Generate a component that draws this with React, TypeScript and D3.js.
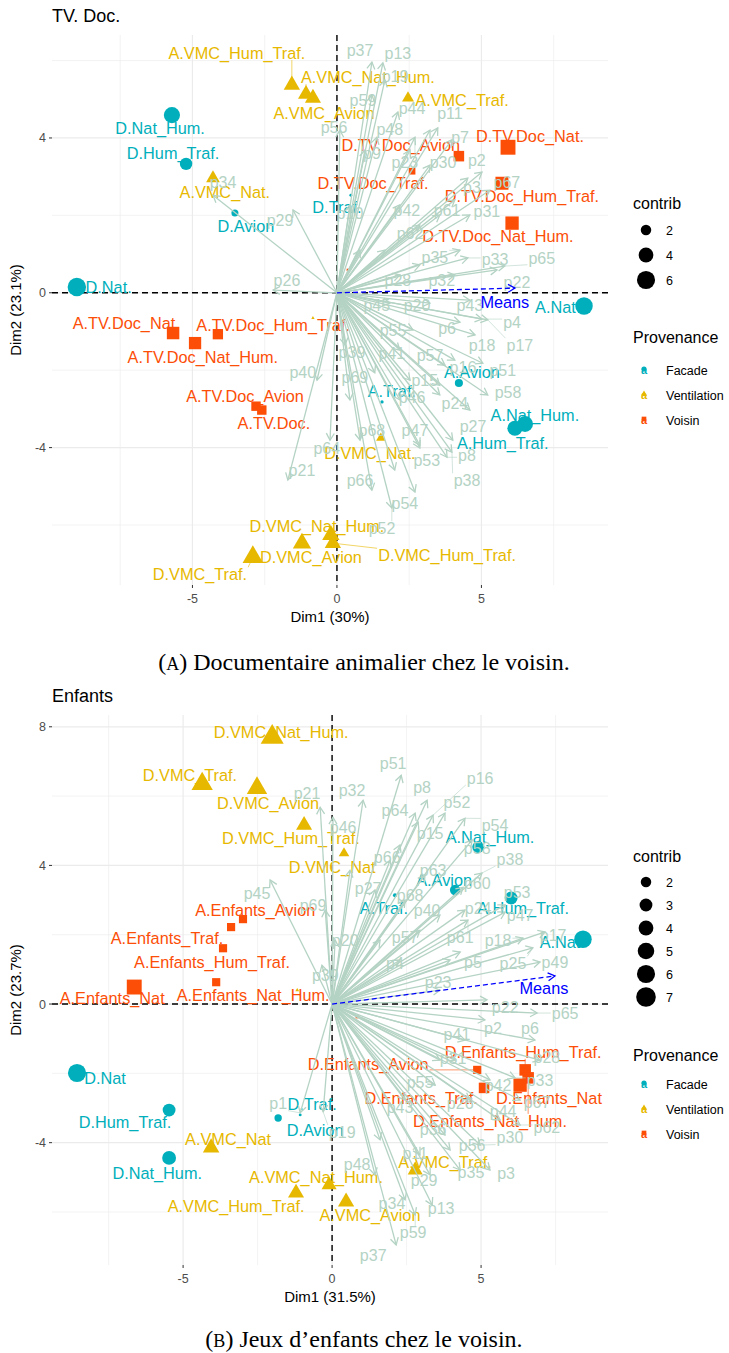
import React from "react";
import * as d3 from "d3";

// ---------- shared ----------
const GROUPS = ["Facade", "Ventilation", "Voisin"];
const GROUP_COLORS = ["#00AFBB", "#E7B800", "#FC4E07"];
const VAR_COLOR = "#B4D3C4";
const MEANS_COLOR = "#0000FF";
const FONT = "'Liberation Sans', Arial, Helvetica, sans-serif";

// rows: [name, group, dim1, dim2, contrib, labelDim1, labelDim2]
type Ind = [string, string, number, number, number, number, number];
// rows: [name, dim1, dim2, labelDim1, labelDim2]
type Var = [string, number, number, number | null, number | null];

// ---------- Panel A : TV. Doc. ----------
const indTV: Ind[] = [
  ["D.Nat_Hum.", "Facade", -5.71, 4.59, 4.8, -6.12, 4.26],
  ["D.Hum_Traf.", "Facade", -5.22, 3.33, 2.8, -5.67, 3.61],
  ["D.Avion", "Facade", -3.53, 2.06, 0.9, -3.15, 1.72],
  ["D.Traf.", "Facade", 0.48, 2.52, 0.15, 0.0, 2.21],
  ["D.Nat.", "Facade", -9.0, 0.15, 6.2, -7.9, 0.15],
  ["A.Nat", "Facade", 8.55, -0.34, 5.6, 7.56, -0.37],
  ["A.Avion", "Facade", 4.22, -2.33, 1.2, 4.67, -2.05],
  ["A.Traf.", "Facade", 1.56, -2.82, 0.2, 1.9, -2.55],
  ["A.Nat_Hum.", "Facade", 6.51, -3.39, 4.6, 6.85, -3.16],
  ["A.Hum_Traf.", "Facade", 6.16, -3.5, 4.2, 5.74, -3.88],
  ["A.VMC_Hum_Traf.", "Ventilation", -1.56, 5.37, 3.5, -3.46, 6.19],
  ["A.VMC_Nat_Hum.", "Ventilation", -1.07, 5.13, 3.4, 1.07, 5.57],
  ["A.VMC_Avion", "Ventilation", -0.83, 5.03, 3.4, -0.45, 4.64],
  ["A.VMC_Traf.", "Ventilation", 2.46, 5.03, 1.9, 4.33, 4.97],
  ["A.VMC_Nat.", "Ventilation", -4.29, 2.96, 2.5, -3.88, 2.6],
  ["D.VMC_Nat.", "Ventilation", 1.52, -3.75, 1.2, 1.14, -4.14],
  ["D.VMC_Nat_Hum.", "Ventilation", -0.21, -6.26, 4.0, -0.69, -6.03],
  ["D.VMC_Hum_Traf.", "Ventilation", -0.14, -6.47, 3.5, 3.81, -6.78],
  ["D.VMC_Avion", "Ventilation", -1.21, -6.47, 4.4, -0.9, -6.83],
  ["D.VMC_Traf.", "Ventilation", -2.91, -6.83, 5.6, -4.74, -7.27],
  ["", "Ventilation", -0.83, -0.65, 0.1, -0.83, -0.65],
  ["D.TV.Doc_Nat.", "Voisin", 5.92, 3.76, 5.0, 6.68, 4.05],
  ["D.TV.Doc_Avion", "Voisin", 4.22, 3.53, 2.5, 2.21, 3.81],
  ["D.TV.Doc_Traf.", "Voisin", 2.6, 3.14, 1.0, 1.25, 2.83],
  ["D.TV.Doc_Hum_Traf.", "Voisin", 5.71, 2.83, 3.8, 6.4, 2.5],
  ["D.TV.Doc_Nat_Hum.", "Voisin", 6.06, 1.8, 4.0, 5.57, 1.47],
  ["A.TV.Doc_Nat", "Voisin", -5.67, -1.04, 3.5, -7.37, -0.78],
  ["A.TV.Doc_Nat_Hum.", "Voisin", -4.91, -1.3, 3.4, -4.64, -1.66],
  ["A.TV.Doc_Hum_Traf.", "Voisin", -4.12, -1.07, 2.4, -2.21, -0.83],
  ["A.TV.Doc_Avion", "Voisin", -2.8, -2.93, 2.0, -3.18, -2.67],
  ["A.TV.Doc.", "Voisin", -2.6, -3.03, 2.0, -2.18, -3.37],
  ["", "Voisin", 0.38, 0.59, 0.1, 0.38, 0.59],
];

const varTV: Var[] = [
  ["p37", 1.21, 5.96, 0.8, 6.27],
  ["p13", 1.59, 5.94, 2.11, 6.19],
  ["p19", 1.66, 5.5, 2.01, 5.6],
  ["p59", 1.21, 5.11, 0.9, 4.98],
  ["p44", 2.11, 4.67, 2.6, 4.77],
  ["p11", 3.49, 4.26, 3.91, 4.64],
  ["p48", 1.38, 4.02, 1.83, 4.23],
  ["p56", 0.1, 4.2, -0.1, 4.28],
  ["p7", 3.98, 3.95, 4.26, 4.02],
  ["p9", 0.97, 3.69, 1.21, 3.61],
  ["p23", 2.7, 4.02, 2.35, 3.38],
  ["p30", 3.22, 3.3, 3.67, 3.38],
  ["p2", 5.02, 3.12, 4.84, 3.43],
  ["p3", 4.53, 2.96, 4.67, 2.73],
  ["p67", 5.29, 2.65, 5.88, 2.86],
  ["p31", 4.6, 2.01, 5.19, 2.09],
  ["p61", 3.56, 2.01, 3.81, 2.14],
  ["p42", 2.18, 2.27, 2.42, 2.14],
  ["p10", 0.45, 2.27, 0.45, 2.06],
  ["p62", 2.87, 1.75, 2.53, 1.54],
  ["p35", 4.26, 1.1, 3.39, 0.92],
  ["p33", 4.53, 0.9, 5.47, 0.85],
  ["p65", 5.81, 0.69, 7.09, 0.9],
  ["p28", 2.18, 0.46, 2.11, 0.33],
  ["p32", 4.08, 0.46, 3.63, 0.33],
  ["p22", 5.54, 0.59, 6.23, 0.28],
  ["p45", 1.83, -0.27, 1.38, -0.32],
  ["p20", 3.22, -0.27, 2.77, -0.32],
  ["p43", 4.6, -0.19, 4.6, -0.32],
  ["p4", 5.02, -0.68, 6.06, -0.76],
  ["p6", 4.26, -0.76, 3.81, -0.91],
  ["p18", 4.78, -1.09, 5.02, -1.35],
  ["p17", 5.22, -0.7, 6.33, -1.35],
  ["p55", 2.63, -0.96, 1.94, -0.96],
  ["p41", 2.18, -1.48, 1.9, -1.56],
  ["p57", 3.74, -1.87, 3.22, -1.61],
  ["p16", 4.08, -1.74, 4.36, -1.92],
  ["p51", 5.05, -1.82, 5.74, -2.0],
  ["p39", 0.28, -1.35, 0.52, -1.53],
  ["p69", 1.31, -2.07, 0.62, -2.18],
  ["p15", 3.56, -2.39, 3.04, -2.26],
  ["p58", 5.22, -2.64, 5.92, -2.57],
  ["p46", 2.18, -2.77, 2.6, -2.7],
  ["p24", 3.56, -2.64, 4.08, -2.85],
  ["p68", 0.8, -3.81, 1.21, -3.55],
  ["p47", 2.87, -3.94, 2.7, -3.55],
  ["p27", 4.01, -3.81, 4.71, -3.45],
  ["p53", 2.87, -4.01, 3.11, -4.33],
  ["p8", 3.81, -4.25, 4.5, -4.19],
  ["p38", 3.98, -4.12, 4.5, -4.84],
  ["p66", 1.21, -5.1, 0.8, -4.84],
  ["p54", 2.7, -5.15, 2.35, -5.43],
  ["p52", 1.9, -5.56, 1.56, -6.08],
  ["p21", -1.7, -4.84, -1.21, -4.58],
  ["p40", -0.69, -2.26, -1.18, -2.05],
  ["p26", -2.21, 0.07, -1.73, 0.33],
  ["p29", -1.52, 2.14, -1.97, 1.88],
  ["p34", -4.29, 2.52, -3.94, 2.86],
  ["p64", -0.24, -3.81, -0.35, -4.01],
  ["p1", 3.22, 4.2, null, null],
  ["p14", 4.08, 2.4, null, null],
  ["p36", 2.53, -2.26, null, null],
  ["p49", 4.6, -3.03, null, null],
  ["p50", 2.0, -4.58, null, null],
  ["p60", 2.53, 3.69, null, null],
  ["p63", 0.8, 1.1, null, null],
  ["p12", 1.66, 1.1, null, null],
  ["p25", 2.87, 0.72, null, null],
  ["p5", 0.45, -2.77, null, null],
];

const meansTV: [number, number, number, number] = [6.16, 0.12, 5.81, -0.24];
const contribBreaksTV = [2, 4, 6];

// ---------- Panel B : Enfants ----------
const indEnf: Ind[] = [
  ["D.VMC_Nat_Hum.", "Ventilation", -2.01, 7.7, 7.0, -1.71, 7.85],
  ["D.VMC_Traf.", "Ventilation", -4.36, 6.35, 6.0, -4.77, 6.6],
  ["D.VMC_Avion", "Ventilation", -2.52, 6.23, 5.5, -2.15, 5.8],
  ["D.VMC_Hum_Traf.", "Ventilation", -0.94, 5.16, 3.4, -1.38, 4.79],
  ["D.VMC_Nat", "Ventilation", 0.4, 4.35, 1.5, 0.0, 3.95],
  ["A.VMC_Nat", "Ventilation", -4.06, -4.15, 3.6, -3.49, -3.89],
  ["A.VMC_Nat_Hum.", "Ventilation", -0.1, -5.22, 3.0, -0.54, -5.0],
  ["A.VMC_Hum_Traf.", "Ventilation", -1.21, -5.45, 3.4, -3.22, -5.85],
  ["A.VMC_Avion", "Ventilation", 0.47, -5.71, 3.5, 1.27, -6.11],
  ["A.VMC_Traf.", "Ventilation", 2.79, -4.79, 3.0, 3.79, -4.56],
  ["", "Ventilation", -1.17, 0.4, 0.2, -1.17, 0.4],
  ["D.Nat", "Facade", -8.56, -1.99, 6.0, -7.62, -2.13],
  ["D.Hum_Traf.", "Facade", -5.47, -3.06, 3.0, -6.95, -3.4],
  ["D.Nat_Hum.", "Facade", -5.47, -4.44, 3.5, -5.87, -4.87],
  ["D.Traf.", "Facade", -1.07, -3.2, 0.15, -0.67, -2.88],
  ["D.Avion", "Facade", -1.81, -3.29, 1.0, -0.57, -3.63],
  ["A.Nat", "Facade", 8.42, 1.87, 5.6, 7.65, 1.79],
  ["A.Nat_Hum.", "Facade", 4.9, 4.53, 2.5, 5.3, 4.82],
  ["A.Avion", "Facade", 4.13, 3.29, 2.0, 3.76, 3.58],
  ["A.Hum_Traf.", "Facade", 6.01, 3.06, 3.0, 6.41, 2.77],
  ["A.Traf.", "Facade", 2.11, 3.14, 0.3, 1.74, 2.77],
  ["A.Enfants_Nat", "Voisin", -6.64, 0.49, 5.0, -7.38, 0.17],
  ["A.Enfants_Avion", "Voisin", -2.99, 2.45, 1.5, -2.58, 2.71],
  ["A.Enfants_Traf.", "Voisin", -3.39, 2.22, 1.5, -5.54, 1.9],
  ["A.Enfants_Hum_Traf.", "Voisin", -3.66, 1.61, 1.5, -4.03, 1.21],
  ["A.Enfants_Nat_Hum.", "Voisin", -3.89, 0.63, 1.5, -2.65, 0.26],
  ["D.Enfants_Hum_Traf.", "Voisin", 6.48, -1.9, 3.0, 6.41, -1.38],
  ["D.Enfants_Avion", "Voisin", 4.87, -1.9, 1.5, 1.21, -1.73],
  ["D.Enfants_Traf.", "Voisin", 5.1, -2.42, 2.5, 2.99, -2.71],
  ["D.Enfants_Nat", "Voisin", 6.31, -2.34, 4.0, 7.28, -2.71],
  ["D.Enfants_Nat_Hum.", "Voisin", 6.58, -2.13, 3.0, 5.3, -3.37],
  ["", "Voisin", 0.84, -0.37, 0.2, 0.84, -0.37],
];

const varEnf: Var[] = [
  ["p51", 2.32, 6.6, 2.05, 6.95],
  ["p32", 1.04, 5.88, 0.67, 6.17],
  ["p8", 3.19, 5.88, 3.02, 6.26],
  ["p64", 2.79, 5.51, 2.11, 5.6],
  ["p16", 3.39, 5.45, 4.97, 6.52],
  ["p52", 3.79, 5.51, 4.19, 5.83],
  ["p15", 2.89, 5.25, 3.29, 4.93],
  ["p54", 4.46, 5.36, 5.47, 5.16],
  ["p46", 0.03, 5.39, 0.37, 5.1],
  ["p21", -0.4, 5.68, -0.84, 6.09],
  ["p66", 2.28, 4.59, 1.85, 4.24],
  ["p58", 4.7, 4.73, 4.87, 4.5],
  ["p38", 5.03, 3.78, 5.97, 4.18],
  ["p63", 3.12, 3.72, 3.39, 3.86],
  ["p60", 4.4, 3.37, 4.87, 3.49],
  ["p53", 5.81, 2.86, 6.21, 3.23],
  ["p27", 1.44, 3.29, 1.21, 3.35],
  ["p68", 2.45, 3.0, 2.62, 3.14],
  ["p40", 3.62, 2.57, 3.19, 2.71],
  ["p24", 4.46, 2.71, 4.9, 2.77],
  ["p47", 5.81, 2.65, 6.31, 2.57],
  ["p45", -2.08, 3.58, -2.52, 3.2],
  ["p69", -0.23, 2.71, -0.64, 2.86],
  ["p20", 0.1, 1.85, 0.44, 1.85],
  ["p57", 2.95, 2.13, 2.45, 1.93],
  ["p61", 4.56, 2.42, 4.3, 1.93],
  ["p18", 6.41, 1.9, 5.57, 1.85],
  ["p17", 7.15, 2.08, 7.42, 1.99],
  ["p4", 2.28, 1.27, 2.11, 1.18],
  ["p5", 4.3, 1.5, 4.73, 1.21],
  ["p25", 6.74, 1.62, 6.07, 1.18],
  ["p49", 6.98, 1.21, 7.48, 1.21],
  ["p39", -0.34, 1.12, -0.23, 0.84],
  ["p23", 3.62, 0.4, 3.56, 0.63],
  ["p22", 5.2, 0.12, 5.81, -0.09],
  ["p65", 6.88, -0.26, 7.82, -0.26],
  ["p2", 5.13, -0.46, 5.4, -0.69],
  ["p6", 6.81, -1.04, 6.64, -0.69],
  ["p41", 4.46, -1.04, 4.19, -0.89],
  ["p28", 6.98, -1.62, 7.21, -1.53],
  ["p31", 4.13, -1.62, 4.06, -1.56],
  ["p33", 6.14, -2.13, 6.98, -2.19],
  ["p42", 5.3, -2.19, 5.57, -2.34],
  ["p55", 3.46, -2.34, 2.95, -2.25],
  ["p26", 4.63, -2.77, 4.3, -2.86],
  ["p43", 2.45, -2.77, 2.28, -2.97],
  ["p67", 6.31, -2.77, 6.88, -2.83],
  ["p44", 5.64, -3.35, 5.74, -3.11],
  ["p36", 3.79, -3.78, 3.39, -3.63],
  ["p62", 6.31, -3.49, 7.21, -3.55],
  ["p30", 4.97, -4.07, 5.97, -3.86],
  ["p56", 3.96, -4.21, 4.7, -4.07],
  ["p11", 2.95, -4.35, 2.79, -4.3],
  ["p48", 1.44, -4.93, 0.84, -4.64],
  ["p35", 4.3, -4.79, 4.66, -4.85],
  ["p3", 5.3, -4.79, 5.84, -4.9],
  ["p29", 3.29, -4.93, 3.09, -5.08],
  ["p34", 2.45, -5.65, 2.01, -5.74],
  ["p13", 3.36, -5.8, 3.66, -5.91],
  ["p59", 2.79, -6.09, 2.72, -6.6],
  ["p37", 2.15, -6.95, 1.38, -7.24],
  ["p1", -1.07, -3.14, -1.81, -2.88],
  ["p19", -0.3, -3.11, 0.34, -3.69],
  ["p7", 1.95, 4.15, null, null],
  ["p9", 0.6, 3.86, null, null],
  ["p10", 1.61, 1.85, null, null],
  ["p12", 3.96, 1.27, null, null],
  ["p14", 3.62, -1.62, null, null],
  ["p50", 1.61, -3.92, null, null],
];

const meansEnf: [number, number, number, number] = [7.48, 0.81, 7.11, 0.46];
const contribBreaksEnf = [2, 3, 4, 5, 6, 7];

// ---------- layout configs ----------
const cfgTV = {
  title: "TV. Doc.",
  xLabel: "Dim1 (30%)",
  yLabel: "Dim2 (23.1%)",
  caption: "Documentaire animalier chez le voisin.",
  capLetter: "A",
  x0: 52, x1: 608, y0: 35, y1: 585,
  xDomain: [-9.86, 9.38], yDomain: [-7.55, 6.66],
  xTicks: [-5, 0, 5], xMinor: [-7.5, -2.5, 2.5, 7.5],
  yTicks: [-4, 0, 4], yMinor: [-6, -2, 2, 6],
  captionY: 670,
  legContribY: 203, legContribStep: 25, legContribFirst: 230,
  legProvY: 337, legProvFirst: 370, legProvStep: 25,
  inds: indTV, vars: varTV, means: meansTV, breaks: contribBreaksTV,
};

const cfgEnf = {
  title: "Enfants",
  xLabel: "Dim1 (31.5%)",
  yLabel: "Dim2 (23.7%)",
  caption: "Jeux d\u2019enfants chez le voisin.",
  capLetter: "B",
  x0: 52, x1: 608, y0: 715, y1: 1265,
  xDomain: [-9.4, 9.26], yDomain: [-7.53, 8.34],
  xTicks: [-5, 0, 5], xMinor: [-7.5, -2.5, 2.5, 7.5],
  yTicks: [-4, 0, 4, 8], yMinor: [-6, -2, 2, 6],
  captionY: 1347,
  legContribY: 856, legContribStep: 23, legContribFirst: 882,
  legProvY: 1055, legProvFirst: 1084, legProvStep: 25,
  inds: indEnf, vars: varEnf, means: meansEnf, breaks: contribBreaksEnf,
};

// ---------- helpers ----------
const IND_LABEL_SIZE = 16.3;
const VAR_LABEL_SIZE = 16;
let ctx: CanvasRenderingContext2D | null = null;
function textW(t: string, size: number) {
  if (!ctx) {
    const c = document.createElement("canvas");
    ctx = c.getContext("2d");
  }
  if (!ctx) return t.length * size * 0.55;
  ctx.font = `${size}px 'Liberation Sans', Arial, sans-serif`;
  return ctx.measureText(t).width;
}

const rScale = (c: number) => Math.max(1.4, 3.7 * Math.sqrt(c));
const colorOf = (g: string) => GROUP_COLORS[GROUPS.indexOf(g)];

function Shape({ group, cx, cy, r, color }: { group: string; cx: number; cy: number; r: number; color: string }) {
  if (group === "Facade") return <circle cx={cx} cy={cy} r={r} fill={color} />;
  if (group === "Ventilation") {
    const s = 2.35 * r;
    const h = (s * Math.sqrt(3)) / 2;
    const p = d3.path();
    p.moveTo(cx, cy - (2 * h) / 3);
    p.lineTo(cx + s / 2, cy + h / 3);
    p.lineTo(cx - s / 2, cy + h / 3);
    p.closePath();
    return <path d={p.toString()} fill={color} />;
  }
  const side = 1.8 * r;
  return <rect x={cx - side / 2} y={cy - side / 2} width={side} height={side} fill={color} />;
}

function segmentTo(px: number, py: number, lx: number, ly: number, text: string, size: number) {
  const w = textW(text, size) + 2;
  const h = size * 0.85;
  const nx = Math.max(lx - w / 2, Math.min(px, lx + w / 2));
  const ny = Math.max(ly - h / 2, Math.min(py, ly + h / 2));
  const d = Math.hypot(nx - px, ny - py);
  return d > 10 ? [nx, ny] : null;
}

function arrowHead(ox: number, oy: number, tx: number, ty: number, len = 8) {
  const a = Math.atan2(ty - oy, tx - ox);
  const a1 = a + Math.PI - Math.PI / 6;
  const a2 = a + Math.PI + Math.PI / 6;
  const p = d3.path();
  p.moveTo(tx + len * Math.cos(a1), ty + len * Math.sin(a1));
  p.lineTo(tx, ty);
  p.lineTo(tx + len * Math.cos(a2), ty + len * Math.sin(a2));
  return p.toString();
}

function Panel({ cfg }: { cfg: any }) {
  const x = d3.scaleLinear().domain(cfg.xDomain).range([cfg.x0, cfg.x1]);
  const y = d3.scaleLinear().domain(cfg.yDomain).range([cfg.y1, cfg.y0]);
  const ox = x(0);
  const oy = y(0);
  const midY = (cfg.y0 + cfg.y1) / 2;
  const midX = (cfg.x0 + cfg.x1) / 2;
  const legX = 633;
  const inds: Ind[] = cfg.inds;
  const vars: Var[] = cfg.vars;
  const [mx, my, mlx, mly] = cfg.means;

  return (
    <g>
      {/* title */}
      <text x={cfg.x0} y={cfg.y0 - 13} fontSize={18} fill="#000">{cfg.title}</text>

      {/* grid */}
      {cfg.xMinor.map((v: number) => (
        <line key={"xm" + v} x1={x(v)} x2={x(v)} y1={cfg.y0} y2={cfg.y1} stroke="#EEEEEE" strokeWidth={0.7} />
      ))}
      {cfg.yMinor.map((v: number) => (
        <line key={"ym" + v} y1={y(v)} y2={y(v)} x1={cfg.x0} x2={cfg.x1} stroke="#EEEEEE" strokeWidth={0.7} />
      ))}
      {cfg.xTicks.map((v: number) => (
        <line key={"xg" + v} x1={x(v)} x2={x(v)} y1={cfg.y0} y2={cfg.y1} stroke="#EBEBEB" strokeWidth={1.2} />
      ))}
      {cfg.yTicks.map((v: number) => (
        <line key={"yg" + v} y1={y(v)} y2={y(v)} x1={cfg.x0} x2={cfg.x1} stroke="#EBEBEB" strokeWidth={1.2} />
      ))}

      {/* axes ticks and labels */}
      {cfg.xTicks.map((v: number) => (
        <g key={"xt" + v}>
          <line x1={x(v)} x2={x(v)} y1={cfg.y1} y2={cfg.y1 + 3} stroke="#333" strokeWidth={1} />
          <text x={x(v)} y={cfg.y1 + 18} fontSize={12.5} fill="#4D4D4D" textAnchor="middle">{String(v)}</text>
        </g>
      ))}
      {cfg.yTicks.map((v: number) => (
        <g key={"yt" + v}>
          <line x1={cfg.x0 - 3} x2={cfg.x0} y1={y(v)} y2={y(v)} stroke="#333" strokeWidth={1} />
          <text x={cfg.x0 - 6} y={y(v) + 4.5} fontSize={12.5} fill="#4D4D4D" textAnchor="end">{v}</text>
        </g>
      ))}
      <text x={midX} y={cfg.y1 + 37} fontSize={15} textAnchor="middle" fill="#000">{cfg.xLabel}</text>
      <text transform={`translate(${21},${midY}) rotate(-90)`} fontSize={15} textAnchor="middle" fill="#000">{cfg.yLabel}</text>

      {/* zero lines */}
      <line x1={ox} x2={ox} y1={cfg.y0} y2={cfg.y1} stroke="#000" strokeWidth={1.4} strokeDasharray="6,4" />
      <line x1={cfg.x0} x2={cfg.x1} y1={oy} y2={oy} stroke="#000" strokeWidth={1.4} strokeDasharray="6,4" />

      {/* individuals: segments and points */}
      {inds.map((d, i) => {
        const px = x(d[2]);
        const py = y(d[3]);
        const lx = x(d[5]);
        const ly = y(d[6]);
        const col = colorOf(d[1]);
        const seg = d[0] ? segmentTo(px, py, lx, ly, d[0], IND_LABEL_SIZE) : null;
        return (
          <g key={"ind" + i}>
            {seg && <line x1={px} y1={py} x2={seg[0]} y2={seg[1]} stroke={col} strokeWidth={0.6} />}
            <Shape group={d[1]} cx={px} cy={py} r={rScale(d[4])} color={col} />
          </g>
        );
      })}
      {inds.map((d, i) =>
        d[0] ? (
          <text key={"il" + i} x={x(d[5])} y={y(d[6])} dy="0.35em" fontSize={IND_LABEL_SIZE} fill={colorOf(d[1])} textAnchor="middle">
            {d[0]}
          </text>
        ) : null
      )}

      {/* variables */}
      {vars.map((d, i) => {
        const tx = x(d[1]);
        const ty = y(d[2]);
        return (
          <g key={"v" + i}>
            <line x1={ox} y1={oy} x2={tx} y2={ty} stroke={VAR_COLOR} strokeWidth={1.3} />
            <path d={arrowHead(ox, oy, tx, ty)} fill="none" stroke={VAR_COLOR} strokeWidth={1.3} />
          </g>
        );
      })}
      {vars.map((d, i) => {
        if (d[3] === null || d[4] === null) return null;
        const tx = x(d[1]);
        const ty = y(d[2]);
        const lx = x(d[3]);
        const ly = y(d[4]);
        const seg = segmentTo(tx, ty, lx, ly, d[0], VAR_LABEL_SIZE);
        return (
          <g key={"vl" + i}>
            {seg && <line x1={tx} y1={ty} x2={seg[0]} y2={seg[1]} stroke={VAR_COLOR} strokeWidth={0.6} />}
            <text x={lx} y={ly} dy="0.35em" fontSize={VAR_LABEL_SIZE} fill={VAR_COLOR} textAnchor="middle">{d[0]}</text>
          </g>
        );
      })}

      {/* means */}
      <line x1={ox} y1={oy} x2={x(mx)} y2={y(my)} stroke={MEANS_COLOR} strokeWidth={1.3} strokeDasharray="5,3" />
      <path d={arrowHead(ox, oy, x(mx), y(my))} fill="none" stroke={MEANS_COLOR} strokeWidth={1.3} />
      <text x={x(mlx)} y={y(mly)} dy="0.35em" fontSize={16.3} fill={MEANS_COLOR} textAnchor="middle">Means</text>

      {/* legend: contrib */}
      <text x={legX} y={cfg.legContribY + 6} fontSize={16} fill="#000">contrib</text>
      {cfg.breaks.map((b: number, i: number) => {
        const cy = cfg.legContribFirst + i * cfg.legContribStep;
        return (
          <g key={"lc" + b}>
            <circle cx={legX + 13} cy={cy} r={rScale(b)} fill="#000" />
            <text x={legX + 33} y={cy + 4.5} fontSize={12.5} fill="#000">{b}</text>
          </g>
        );
      })}

      {/* legend: provenance */}
      <text x={legX} y={cfg.legProvY + 6} fontSize={16} fill="#000">Provenance</text>
      {GROUPS.map((g, i) => {
        const cy = cfg.legProvFirst + i * cfg.legProvStep;
        const col = GROUP_COLORS[i];
        return (
          <g key={"lp" + g}>
            <Shape group={g} cx={legX + 11} cy={cy - 1} r={2.6} color={col} />
            <text x={legX + 11} y={cy + 4} fontSize={11} fontWeight="bold" fill={col} textAnchor="middle">a</text>
            <text x={legX + 33} y={cy + 4.5} fontSize={12.5} fill="#000">{g}</text>
          </g>
        );
      })}

      {/* caption */}
      <text x={364} y={cfg.captionY} fontSize={24} textAnchor="middle" fill="#000" fontFamily="'Liberation Serif', 'Times New Roman', serif">
        (<tspan fontSize={18}>{cfg.capLetter}</tspan>) {cfg.caption}
      </text>
    </g>
  );
}

export default function App() {
  return (
    <svg
      width={729}
      height={1353}
      style={{ position: "absolute", left: 0, top: 0, background: "#fff" }}
      fontFamily={FONT}
    >
      <rect x={0} y={0} width={729} height={1353} fill="#fff" />
      <Panel cfg={cfgTV} />
      <Panel cfg={cfgEnf} />
    </svg>
  );
}
